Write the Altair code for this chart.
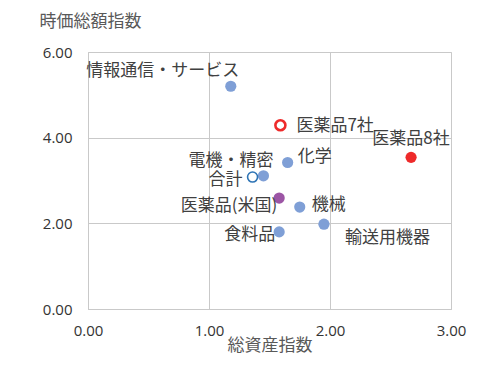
import altair as alt
import pandas as pd

names = ["情報通信・サービス", "医薬品7社", "医薬品8社", "化学", "電機・精密",
         "合計", "医薬品(米国)", "機械", "輸送用機器", "食料品"]
x_vals = [1.18, 1.59, 2.67, 1.65, 1.45, 1.36, 1.58, 1.75, 1.95, 1.58]
y_vals = [5.20, 4.29, 3.54, 3.42, 3.11, 3.08, 2.59, 2.38, 1.98, 1.80]
x_ticks = [0, 1, 2, 3]
y_ticks = [0, 2, 4, 6]

df = pd.DataFrame({"name": names, "x": x_vals, "y": y_vals})

CJK = "Noto Sans CJK JP"
GRID = "#c9c9c9"

xenc = alt.X("x:Q", scale=alt.Scale(domain=[0, 3], nice=False),
             axis=alt.Axis(values=x_ticks, format=".2f", title="総資産指数",
                           grid=True, gridColor=GRID, domainColor=GRID, ticks=False,
                           labelFont="Open Sans", labelFontSize=15, labelColor="#333333",
                           labelPadding=14, labelFlush=False,
                           titleFont=CJK, titleFontSize=17, titleFontWeight="normal",
                           titleColor="#595959", titleY=36, titleBaseline="middle"))
yenc = alt.Y("y:Q", scale=alt.Scale(domain=[0, 6], nice=False),
             axis=alt.Axis(values=y_ticks, format=".2f", title="時価総額指数",
                           grid=True, gridColor=GRID, domainColor=GRID, ticks=False,
                           labelFont="Open Sans", labelFontSize=15, labelColor="#333333",
                           labelPadding=16,
                           titleFont=CJK, titleFontSize=17, titleFontWeight="normal",
                           titleColor="#595959", titleAngle=0, titleAlign="left",
                           titleBaseline="middle", titleX=-49, titleY=-31))

base = alt.Chart(df).encode(x=xenc, y=yenc)

def sel(lst):
    return alt.FieldOneOfPredicate(field="name", oneOf=lst)

blue_names = ["情報通信・サービス", "化学", "電機・精密", "機械", "輸送用機器", "食料品"]
blue = base.mark_circle(size=125, color="#7f9fd6", opacity=1).transform_filter(sel(blue_names))
red = base.mark_circle(size=125, color="#ee2a2a", opacity=1).transform_filter(sel(["医薬品8社"]))
purple = base.mark_circle(size=125, color="#9c55a5", opacity=1).transform_filter(sel(["医薬品(米国)"]))
red_hollow = base.mark_point(size=100, color="#ee2a2a", strokeWidth=2.6, filled=False,
                             fill="white", opacity=1).transform_filter(sel(["医薬品7社"]))
blue_hollow = base.mark_point(size=100, color="#2e74b5", strokeWidth=1.6, filled=False,
                              fill="white", opacity=1).transform_filter(sel(["合計"]))

label_specs = {
    "情報通信・サービス": ("center", -68, -15),
    "医薬品7社": ("left", 16, 1),
    "医薬品8社": ("center", 0, -18),
    "化学": ("left", 10, -6),
    "電機・精密": ("right", 10, -15),
    "合計": ("right", -10, 3),
    "医薬品(米国)": ("right", -2, 8),
    "機械": ("left", 12, -2),
    "輸送用機器": ("left", 21, 14),
    "食料品": ("right", -4, 3),
}

labels = []
for n, (al, dx, dy) in label_specs.items():
    labels.append(
        base.mark_text(align=al, baseline="middle", dx=dx, dy=dy, font=CJK,
                       fontSize=17, color="#404040")
        .encode(text="name:N")
        .transform_filter(sel([n]))
    )

chart = alt.layer(blue, purple, red, red_hollow, blue_hollow, *labels).properties(
    width=363, height=257,
    autosize=alt.AutoSizeParams(type="none"),
    padding={"left": 80, "top": 44, "right": 41, "bottom": 63},
).configure_view(stroke=None).configure(background="white")

chart.save("out.html", embed_options={"renderer": "svg", "actions": False})
